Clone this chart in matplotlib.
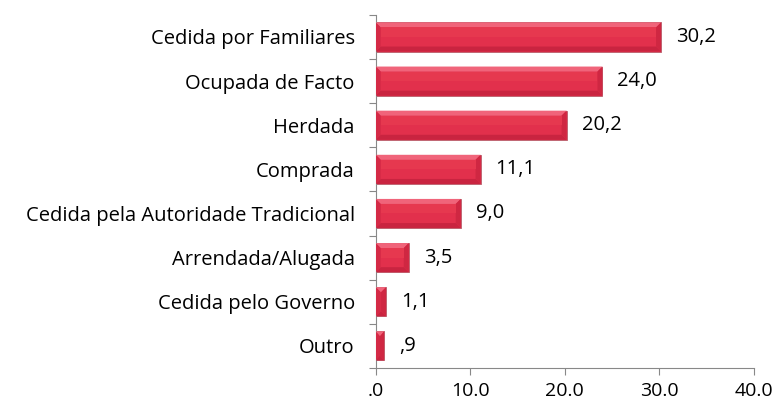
import numpy as np
import matplotlib.pyplot as plt
from matplotlib.patches import Polygon

# dados
categorias = ["Cedida por Familiares", "Ocupada de Facto", "Herdada", "Comprada",
              "Cedida pela Autoridade Tradicional", "Arrendada/Alugada",
              "Cedida pelo Governo", "Outro"]
valores = [30.2, 24.0, 20.2, 11.1, 9.0, 3.5, 1.1, 0.9]
rotulos = ["30,2", "24,0", "20,2", "11,1", "9,0", "3,5", "1,1", ",9"]
ticks_x = [0, 10, 20, 30, 40]
ticks_x_txt = [".0", "10.0", "20.0", "30.0", "40.0"]

plt.rcParams['font.family'] = ['Open Sans', 'DejaVu Sans']

fig = plt.figure(figsize=(7.73, 4.03), dpi=100)
ax = fig.add_axes([0.486, 0.087, 0.489, 0.876])

y = np.arange(len(categorias))
alt = 0.66
cor = "#e2304c"
ax.barh(y, valores, height=alt, color=cor, edgecolor="#b8606c", linewidth=0.6, zorder=2)

ax.set_xlim(0, 40)
ax.set_ylim(len(categorias) - 0.5, -0.5)

# efeito bisel (tamanho em pixels convertido para dados)
fig.canvas.draw()
px_x = 40 / ax.get_window_extent().width
px_y = len(categorias) / ax.get_window_extent().height
bx = 5 * px_x
by = 5 * px_y
for yi, v in zip(y, valores):
    t = yi - alt / 2
    b = yi + alt / 2
    dx = min(bx, v / 2)
    topo = [(0, t), (v, t), (v - dx, t + by), (dx, t + by)]
    base = [(0, b), (v, b), (v - dx, b - by), (dx, b - by)]
    esq = [(0, t), (dx, t + by), (dx, b - by), (0, b)]
    dir_ = [(v, t), (v - dx, t + by), (v - dx, b - by), (v, b)]
    ax.add_patch(Polygon(topo, closed=True, color="#f0647a", lw=0, zorder=3))
    ax.add_patch(Polygon(base, closed=True, color="#c92440", lw=0, zorder=3))
    ax.add_patch(Polygon(esq, closed=True, color="#d42a46", lw=0, zorder=3))
    ax.add_patch(Polygon(dir_, closed=True, color="#cf2742", lw=0, zorder=3))
    # metade de cima um pouco mais clara
    ax.add_patch(Polygon([(dx, t + by), (v - dx, t + by), (v - dx, yi), (dx, yi)],
                         closed=True, color="#e6384f", lw=0, zorder=3))

for yi, v, r in zip(y, valores, rotulos):
    ax.text(v + 15 * px_x, yi, r, va="center", ha="left", fontsize=14.5, color="black")

ax.set_yticks(y)
ax.set_yticklabels(categorias, fontsize=14.5)
ax.set_yticks(np.arange(len(categorias) + 1) - 0.5, minor=True)
ax.tick_params(axis="y", which="major", length=0, pad=15)
ax.tick_params(axis="y", which="minor", length=5, color="#888888", width=0.8)
ax.set_xticks(ticks_x)
ax.set_xticklabels(ticks_x_txt, fontsize=14)
ax.tick_params(axis="x", length=5, color="#888888", width=0.8, pad=5)

for s in ["top", "right"]:
    ax.spines[s].set_visible(False)
for s in ["left", "bottom"]:
    ax.spines[s].set_color("#888888")
    ax.spines[s].set_linewidth(0.8)

fig.savefig("out.png", dpi=100)
